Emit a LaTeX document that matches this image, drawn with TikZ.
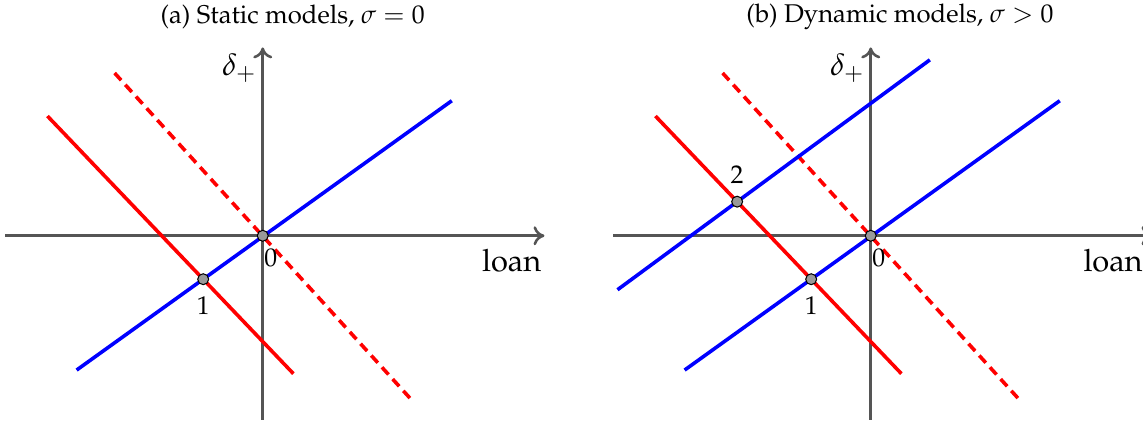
\documentclass[tikz,border=0pt]{standalone}
\usepackage[T1]{fontenc}
\usepackage{mathpazo}
\usepackage{tikz}
\usetikzlibrary{arrows.meta}
\definecolor{axisgray}{HTML}{555555}
\definecolor{dotgray}{HTML}{999999}

\begin{document}
\begin{tikzpicture}[
    axis/.style={draw=axisgray, line width=1pt, -{To[length=1.5mm, width=2.6mm]}},
    blueline/.style={draw=blue, line width=1.4pt},
    redline/.style={draw=red, line width=1.4pt},
    reddash/.style={redline, dash pattern=on 3.8pt off 2.4pt},
    dot/.style={circle, draw=black, fill=dotgray, line width=0.4pt,
                inner sep=0pt, minimum size=1.5mm},
    axlabel/.style={font=\large},
    title/.style={font=\normalsize}
]
\useasboundingbox (-3.60,-2.62) rectangle (12.06,3.23);

% (a) static
\begin{scope}
\node[title] (titleA) at (0.41,3.00) {(a) Static models, $\sigma = 0$};
\draw[axis] (-3.53,0) -- (3.86,0);
\draw[axis] (0,-2.52) -- (0,2.58);
\node[axlabel] (xlabA) at (3.41,-0.34) {loan};
\node[axlabel] (ylabA) at (-0.32,2.30) {$\delta_+$};
\draw[reddash] (-2.03,2.23) -- (2.04,-2.25);
\draw[redline] (-2.95,1.64) -- (0.42,-1.89);
\draw[blueline] (-2.55,-1.84) -- (2.59,1.85);
\node[dot] (oA) at (0,0) {};
\node[dot] (pA1) at (intersection of -2.95,1.64--0.42,-1.89 and -2.55,-1.84--2.59,1.85) {};
\node (zeroA) at (0.11,-0.30) {0};
\node[below=1pt] (oneA) at (pA1.south) {1};
\end{scope}

% (b) dynamic
\begin{scope}[xshift=8.33cm]
\node[title] (titleB) at (0.40,3.00) {(b) Dynamic models, $\sigma > 0$};
\draw[axis] (-3.53,0) -- (3.86,0);
\draw[axis] (0,-2.52) -- (0,2.58);
\node[axlabel] (xlabB) at (3.32,-0.34) {loan};
\node[axlabel] (ylabB) at (-0.32,2.30) {$\delta_+$};
\draw[reddash] (-2.03,2.23) -- (2.04,-2.25);
\draw[redline] (-2.95,1.64) -- (0.42,-1.89);
\draw[blueline] (-2.55,-1.84) -- (2.59,1.85);
\draw[blueline] (-3.47,-0.74) -- (0.81,2.41);
\node[dot] (oB) at (0,0) {};
\node[dot] (pB1) at (intersection of -2.95,1.64--0.42,-1.89 and -2.55,-1.84--2.59,1.85) {};
\node[dot] (pB2) at (intersection of -2.95,1.64--0.42,-1.89 and -3.47,-0.74--0.81,2.41) {};
\node (zeroB) at (0.11,-0.30) {0};
\node[below=1pt] (oneB) at (pB1.south) {1};
\node[above=1pt] (twoB) at (pB2.north) {2};
\end{scope}
\end{tikzpicture}
\end{document}
